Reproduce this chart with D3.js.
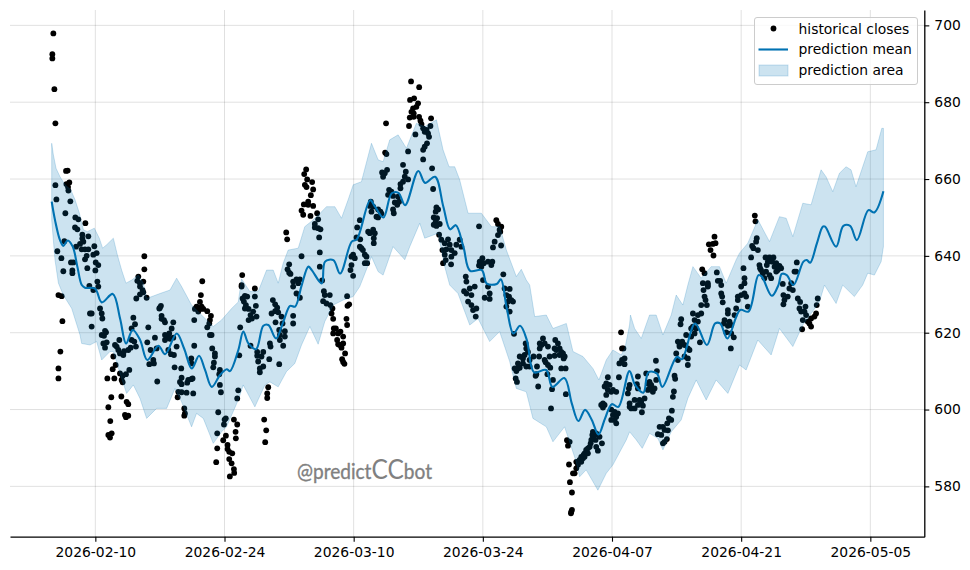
<!DOCTYPE html>
<html>
<head>
<meta charset="utf-8">
<script src="https://cdn.jsdelivr.net/npm/d3@7"></script>
<style>
html, body { margin: 0; background: #fff; }
text { font-family: "DejaVu Sans", sans-serif; }
</style>
</head>
<body>
<svg id="chart" width="970" height="570"></svg>
<script>
// all times are days counted from 2026-02-10 00:00 UTC
var baseDate = Date.UTC(2026, 1, 10);
var tickLabels = ['2026-02-10', '2026-02-24', '2026-03-10', '2026-03-24', '2026-04-07', '2026-04-21', '2026-05-05'];
var priceTicks = [580, 600, 620, 640, 660, 680, 700];
var legendLabels = ['historical closes', 'prediction mean', 'prediction area'];

// prediction mean [day, price]
var predictionMean = [[-4.73,654.1],[-4.37,649.3],[-3.83,644.1],[-3.47,642.6],[-2.99,644],[-2.45,642.4],[-1.95,637.2],[-1.47,632.4],[-1.12,631.7],[-0.03,631.5],[0.69,627.9],[1.89,630.1],[2.68,623.7],[3.33,617.2],[4.05,620.7],[4.85,618.1],[5.64,612.9],[6.83,616.6],[7.56,614.4],[8.82,619.8],[9.62,615.9],[10.45,610.7],[11.24,614],[11.89,610.3],[12.62,605.9],[13.52,609],[14.24,610.5],[14.6,610],[15.5,615.5],[16.04,620.3],[16.59,617.2],[17.42,615.7],[18.21,621.8],[18.75,622],[19.59,618.5],[20.38,622.9],[21.11,627],[21.65,626.8],[22.37,632.4],[23.09,637.2],[23.46,636.3],[24.54,632.8],[24.9,638.5],[25.8,638.9],[26.53,635.4],[27.79,643.7],[28.34,644.3],[29.78,654.5],[30.32,652.8],[31.22,650],[32.13,656.3],[32.85,656.4],[33.57,653.2],[35.01,662.1],[35.74,659],[36.82,660.6],[37.72,652.8],[38.45,646.9],[39.07,648],[39.89,642.4],[40.62,636.1],[41.89,636.3],[42.43,632.8],[43.51,632.7],[43.95,633.9],[44.6,626.3],[45.31,619.8],[46.04,621.8],[46.77,618.1],[47.56,609.7],[48.86,610.3],[49.54,605.9],[50.84,608.2],[51.64,601.6],[52.36,597],[53.08,599.9],[53.81,597.3],[54.53,593.5],[55.25,597.7],[55.98,601.4],[56.69,600.7],[57.89,610],[58.5,606.4],[59.4,604.4],[59.95,609.7],[60.86,609.4],[61.46,605.9],[63.02,613.7],[63.57,613.1],[65.01,622.4],[66.28,616.8],[67.18,622.4],[67.72,622.4],[68.51,618.5],[69.89,625.9],[70.79,625.5],[71.87,635],[72.24,634.6],[73.32,629.6],[74.04,632.4],[74.4,635.3],[74.94,635],[75.66,632.4],[76.75,638.5],[77.12,638.9],[77.48,638.2],[78.2,643.2],[78.85,647.6],[79.1,647.6],[80.29,642.4],[81.08,647.8],[81.81,647.8],[82.54,644.1],[83.79,651.9],[84.44,651.3],[85.42,656.8]];

// upper edge of prediction area [day, price]
var predictionUpper = [[-4.73,669.3],[-4.55,666.3],[-4.26,662.8],[-3.83,660.6],[-3.29,658.5],[-2.67,657.2],[-2.2,654.6],[-1.73,651.1],[-1.3,646.8],[-0.87,646.3],[-0.11,647.2],[0.43,644.6],[0.79,642],[1.23,642.9],[1.95,644.6],[2.38,640.3],[2.85,636.3],[3.32,632.9],[3.94,633.7],[4.66,635],[5.2,632.9],[5.56,628.9],[7,630.2],[8.09,631.1],[8.81,634.2],[9.35,632],[10.43,627.2],[11.34,625],[12.78,621.6],[13.68,623.3],[14.77,626.3],[15.49,628],[15.85,634],[16.75,630.7],[17.65,630.7],[18.2,634.1],[18.56,636.3],[19.28,636.3],[19.82,632.9],[20.36,638.1],[20.9,641.5],[21.99,642],[22.7,647.6],[23.43,649],[24.33,651],[25.05,652.8],[25.96,652.8],[26.68,649.8],[27.4,654.6],[27.95,658.5],[28.84,659.3],[29.93,669.3],[30.65,665],[31.19,664.5],[31.91,670.2],[32.82,671.5],[33.72,668],[34.8,674.5],[35.7,673.6],[36.97,675.4],[37.69,667.6],[38.34,663.2],[38.95,663.2],[39.49,659.8],[40.4,651.1],[41.84,651.1],[42.93,647.6],[43.83,647.6],[44.55,641.5],[45.63,634.6],[46.17,636.5],[46.71,633.7],[47.08,632.4],[47.62,624.2],[48.88,624.6],[49.6,621.1],[51.05,622.4],[51.77,615.1],[52.85,613.8],[53.93,610.7],[54.58,607.7],[55.38,612.9],[56.1,615.5],[57,614.2],[57.4,615.9],[57.9,622],[58,624.6],[58.45,621.1],[59.17,618.5],[60.07,624.6],[60.79,624.6],[61.52,619.4],[62.42,624.6],[62.96,629.8],[63.68,627.2],[64.22,632.4],[64.77,637.2],[65.67,634.2],[66.75,637.2],[67.65,637.2],[68.38,632.9],[69.46,639],[69.82,640.7],[70.72,643.3],[71.81,649.4],[73.07,643.7],[74.15,650.2],[74.88,649.8],[75.6,645],[76.68,653.7],[77.58,653.3],[78.66,662.4],[79.2,660.6],[79.93,656.7],[80.65,661.5],[81.37,663.2],[81.91,662.4],[82.45,658],[83.72,667.1],[84.62,667.6],[85.24,673.2],[85.42,673.2]];

// lower edge of prediction area [day, price]
var predictionLower = [[-4.73,649.3],[-4.37,638.9],[-4,632.9],[-3.47,629.8],[-2.56,626.3],[-1.66,619.4],[-1.48,617.2],[-0.58,616.8],[0.14,617.7],[0.69,612.9],[1.59,615.1],[1.95,615.1],[2.85,608.1],[3.39,604.2],[4.12,606.4],[4.84,602.9],[5.56,597.7],[6.64,600.3],[7.73,600.3],[8.63,605.5],[9.35,602],[10.43,595.5],[10.97,599],[11.7,597.7],[12.78,591.2],[13.68,594.2],[14.22,595.5],[15.49,602.5],[16.03,606.4],[17.29,600.7],[18.38,606.4],[18.92,607.2],[19.82,605.9],[20.72,609.9],[21.62,612],[22.35,616.8],[23.25,621.6],[24.15,617],[24.87,622.9],[25.78,627.2],[26.86,628.5],[27.94,629.4],[28.66,632],[29.93,639.8],[30.65,635.9],[31.19,635],[32.27,642.4],[33.54,639],[34.08,642.4],[35.16,648.5],[35.7,644.6],[37.15,645.9],[37.87,637.2],[38.41,632.4],[39.31,630.2],[40.58,622],[41.48,623.7],[42.74,617.7],[43.82,620.3],[44.91,612.5],[45.63,605.5],[46.71,604.6],[47.43,597.7],[48.88,595.5],[49.6,591.6],[50.86,595.5],[52.12,586.4],[52.49,582.5],[53.2,584.3],[54.47,579],[55.38,583.4],[56.1,585.6],[57.55,592.1],[57.91,594.2],[58.63,592.1],[59.28,589.9],[60.07,593.8],[60.97,592.5],[61.52,589.5],[62.42,594.2],[63.5,597.3],[64.22,602.9],[65.13,607.7],[66.21,602.5],[67.29,607.7],[68.56,604.2],[69.82,611.6],[70.54,610.3],[71.8,618.1],[73.25,614.2],[74.15,621.1],[75.6,616.4],[76.68,622],[78.48,628],[79.03,632.4],[80.29,627.6],[81,632.4],[82.27,629.4],[83.17,632.4],[83.72,635.5],[84.44,635],[85.17,638.5],[85.42,642.4]];

// historical closes [day, price]
var historicalCloses = [
[-4.55,697.9],[-4.66,692.5],[-4.66,691.4],[-4.44,683.4],[-4.33,674.5],[-3.18,662.1],[-3,662.2],[-4.33,658.4],[-4.22,654.7],[-3.14,658.7],[-2.82,659.1],[-2.96,657.9],[-2.92,657],[-2.71,654.2],[-3.25,651.1],[-2.17,650],[-1.84,649.5],[-1.08,648.5],[-2.2,647.4],[-1.95,646.9],[-0.76,645.1],[-1.41,645.5],[-1.41,644.5],[-3.36,643.8],[-1.3,643.7],[-1.66,643.1],[-2.09,642.4],[-0.11,642.5],[-4.12,641.2],[-1.48,641.7],[-1.12,641.7],[-0.76,641.7],[0.14,640.7],[-0.22,640.3],[-0.94,640],[-1.12,639.1],[-3.68,639.4],[-2.64,638.3],[-2.38,638.3],[0.04,638.3],[0.32,637.6],[-0.87,636.8],[-3.47,636],[-2.49,636.2],[-2.49,635.5],[0,636.2],[0.22,633.3],[-0.65,632.2],
[5.31,639.9],[5.31,636.5],[4.66,634.6],[4.55,633.5],[4.84,632.9],[5.2,633.3],[11.59,633.4],[15.92,635],[15.85,632.4],
[20.69,646.1],[20.79,644.3],[22.85,662.5],[22.64,661.3],[22.96,659.9],[23.5,659.2],[22.71,658.5],[22.89,657.9],[23.61,657.3],[23.36,655.8],[23.07,654.1],[22.6,653.4],[23.07,653.3],[23.61,653],[24.04,651.1],[22.35,651.8],[22.53,650.7],[23.32,650.4],[24.15,649.5],[23.79,648.3],[23.79,647.4],[24.15,647.2],[24.26,644.8],[22.35,639.9],[24.33,640.9],[24.33,637.2],[21.01,637.8],[20.83,636.5],[21.01,635.6],[21.15,635.3],[21.44,633.3],[21.8,633.9],[22.17,633.9],[21.99,632.9],[21.44,632],[21.8,630.2],[22.17,629.1],[21.44,624.4],[21.44,622.4],
[-4,629.8],[-3.65,629.5],[-3.57,623],[-3.79,615.1],[-4,610.7],[-4,608.1],[0.32,632],[-0.22,631.1],[0.51,626.3],[0.69,625],[0.76,623.7],[-0.58,625],[-0.4,625],[-0.4,621.6],[1.05,620.5],[1.16,620.1],[0.69,619.4],[0.94,619.2],[1.23,617.5],[0.87,617.2],[1.05,616.1],[1.3,608.1],[2.06,608.1],[1.95,613.8],[2.2,611.6],[1.88,610.5],[2.31,616.4],[2.6,618.1],[2.49,615.5],[2.13,616.8],[2.67,614.6],[3.11,615.2],[3.03,614.2],[3.57,615.5],[2.67,609.4],[2.96,608.8],[3.32,609.2],[2.85,607.7],[2.96,607.1],[3.68,610.3],[1.73,603.2],[2.82,603.4],[3.39,602],[3.57,601.4],[1.41,600.6],[1.62,597],[3.21,598.6],[3.57,598.4],[3.32,598],[1.77,593.8],[1.41,593.4],[1.59,592.7],
[4.12,623.9],[4.3,622.2],[3.93,621.1],[3.83,616.1],[4.22,617.7],[4.4,616.4],[3.93,618.1],[4.44,628.9],[4.84,630],[5.2,630.5],[5.56,629.1],[5.12,631.1],[4.84,632],[5.74,621.4],[5.63,617.5],[6.46,618.7],[5.99,615.5],[6.64,615.9],[6.28,612.9],[5.85,611.8],[6.35,612],[6.71,607.3],[6.93,626.3],[7.11,627],[7,626.5],[7.18,624.4],[7.44,623.3],[7.55,622.7],[7.18,623.6],[8.45,622.7],[8.27,621.1],[8.01,619.8],[7.55,619.4],[7.8,618.7],[7.55,618.1],[8.09,618.4],[8.45,618.7],[8.81,616.4],[7.91,615.5],[8.2,614.4],[8.52,614.2],[8.59,611],[9.31,610.7],[10.4,613.3],[10.43,612],[10.72,616.6],[10.72,623.3],[9.35,608.3],[9.17,607.2],[9.35,606.6],[10.07,607.7],[10.54,608.1],[9.96,607],[10.4,607.9],[8.99,604.6],[8.92,603.2],[9.35,604.5],[9.89,604.4],[10.61,604.2],[9.64,600.3],[9.71,599],[9.64,598.4],
[11.44,629.8],[11.34,628],[10.97,626.8],[11.52,626.8],[11.16,625.5],[11.7,626.2],[12.13,625.6],[10.79,626.2],[11.34,626.2],[10.97,626.5],[12.53,624.4],[12.42,623.3],[12.35,622.4],[12.13,621.4],[12.42,619.4],[12.6,619.4],[12.67,615.9],[12.96,614.6],[12.96,613.8],[12.85,612.2],[12.78,611],[13.5,610.3],[13.43,609.2],[13.5,606.4],[13.61,604.5],[13.32,599.3],[14.01,597.4],[14.14,597.7],[13.94,596.1],[13.21,593.8],[14.15,593.2],[13.86,592],[13.21,589.9],[13.1,586.3],[14.33,590.8],[14.33,589.7],[14.51,589],[14.84,588.6],[14.51,587.1],[14.77,586],[15.02,584.5],[15.05,583.5],[14.58,582.6],[15.02,597.4],[15.38,596.1],[15.2,594.2],[15.23,592.5],[15.49,605],[15.38,602.9],[15.6,614.1],[15.7,621.4],
[15.85,632],[17.29,631.5],[17.29,629.4],[15.96,628.9],[16.21,629.6],[16.46,629.4],[16.1,628.1],[16.32,627.2],[16.21,626.3],[17.4,627],[16.61,626.2],[17.11,625.5],[16.82,624.6],[17.47,624.2],[16.61,623.3],[16.97,623.7],[16.82,616.6],[17.54,615],[18.2,615],[17.54,614],[18.01,613.8],[17.65,612.5],[18.2,611.2],[17.83,610.7],[17.83,609.7],[18.85,613.1],[19.93,611.8],[18.92,617.2],[18.99,616.4],[19.24,628.5],[19.49,627.4],[19.71,626.5],[19.49,625.6],[19.1,625],[19.82,625.3],[19.53,622.7],[20.18,624.2],[20.29,622.4],[19.93,620.7],[20.54,620.4],[20,619.4],[20.54,619],[20,618.1],[20.36,616.6],[18.74,605.8],[18.63,604.2],[18.63,603],[18.3,597.4],[18.52,594.6],[18.41,591.5],
[24.4,646.9],[24.58,633.6],[24.77,630.8],[24.87,629.8],[25.41,629.8],[24.69,628.2],[25.05,627.6],[25.48,627.2],[25.7,626.3],[25.6,625],[25.78,623.6],[25.85,621.1],[26.07,621.1],[25.78,619.8],[26.32,619.8],[26.57,620.3],[26.86,619],[26.21,618.1],[26.5,616.8],[26.86,617.2],[26.32,617],[26.68,616.1],[27.07,614.6],[26.75,613.1],[26.86,612.4],[27,611.9],[27.29,629.5],[27.51,627.4],[27.33,627],[27.22,623.6],[27.29,622],
[27.94,634.8],[27.65,636.3],[27.76,637.6],[28.12,639.4],[27.76,639.8],[27.94,640.3],[28.38,647.4],[28.67,649.3],[28.31,644.8],[28.71,644.3],[28.67,642.4],[28.84,642],[29,641.5],[29.21,640.3],[29.39,639.8],[29.21,638.1],[29.46,638.1],[29.57,646.3],[30.11,646.8],[30.29,645.9],[30.18,644.6],[30.18,643.3],[29.75,645.9],[29.86,654.1],[29.75,653],[30.11,652.8],[29.93,651.5],[30.65,652.1],[30.9,651.5],[30.47,650.2],[30.65,650],[31.01,651],[31.62,662.4],[31.08,661.7],[31.37,661.5],[31.19,660.6],[31.41,666.9],[31.55,666.5],[31.51,674.5],[31.84,657.2],[32.09,656.7],[31.73,655.9],[32.27,655.6],[32.82,655.4],[32.92,654.1],[32.46,653.9],[32.72,653.3],[32.27,652.1],[32.35,651.1],[33.07,657.6],[33.07,658.7],[33.35,659.3],[33.54,660.6],[33.9,659.9],[33.65,661.9],[33.35,663.7],[33.9,667.2],
[34.22,685.4],[35.1,683.9],[34.11,680.6],[34.55,681],[34.98,679.7],[34.44,678.4],[34.8,678.8],[34.26,677.5],[34.51,677.1],[34.08,676],[34.51,676.2],[35.09,676.2],[34,673.8],[34.69,671.6],[35.24,675.2],[35.35,674.3],[35.53,673.2],[35.9,672.8],[35.7,672.3],[36.06,671.9],[36.32,673.8],[36.39,675.8],[36.17,671],[35.95,669.3],[35.7,668.4],[35.53,667.6],[35.53,665.1],[36.5,662.8],[36.61,657.4],[36.97,652.6],[37.15,652.1],[36.89,651.5],[36.68,650],[37.04,649.8],[36.89,648.9],[36.68,648.1],[37.33,648.3],[36.97,647.8],[37.26,645.5],[37.5,644.2],[38.23,644.3],[37.87,643.3],[38.41,642.9],[37.62,641.5],[38.05,641.7],[38.59,641.5],[39.13,642.9],[39.49,644.2],[39.67,642.4],[38.95,640.7],[37.87,640.3],[38.59,639.8],[37.98,638.9],[37.69,638.1],[38.56,637.8],
[41.59,647.7],[43.28,643.7],[43.1,642.2],[43.98,642.7],[43.64,645.4],[43.82,646.8],[43.46,649.3],[43.64,648.3],[44,647.6],[43.89,646.3],[41.95,639.4],[41.66,638.5],[42.1,638.1],[42.56,638.5],[43.03,638.5],[42.92,637.6],[41.59,637.5],[41.84,637.2],[44.22,635.2],[40.15,634.6],[40.22,633.3],[42.02,633.7],
[39.97,630.8],[40.58,631.5],[40.22,630.2],[40.76,629.8],[41.12,632],[40.4,628.1],[40.76,627.2],[40.94,625.9],[41.3,626.3],[41.23,624.2],[42.56,632],[42.74,630.2],[42.2,629.1],[42.74,628.8],[44.36,631.5],[44.91,631.4],[44.55,629.8],[44.84,629.4],[45.09,628.5],[45.27,628.1],[44.73,628.1],[44.55,626.8],[44.91,625.5],[45.38,619.7],
[46.64,617.2],[46.71,615.9],[46.89,615],[46.53,614.2],[46,613.8],[46.35,613.3],[47.07,612.9],[45.81,612],[46.35,612],[45.81,610.7],[45.45,610.7],[46,610.9],[46.71,611.2],[45.63,610],[47.07,611.2],[45.56,608.1],[45.7,607.2],[48.52,618.5],[48.17,617.2],[48.7,617.2],[49.06,616.4],[48.17,615.9],[48.35,616.8],[47.5,613.8],[48.1,613.8],[47.87,611.2],[48.7,612.9],[49.24,613.8],[49.78,614],[49.06,611.6],[48.81,612.3],[49.31,610.9],[47.8,609.2],[47.72,608.8],[49,609.2],[49.6,607.7],[48,606],[49.5,605.3],[49.39,600.3],[51,604],[49.85,618.1],[50.14,617.2],[49.78,615.9],[50.32,615.9],[49.96,615.5],[50.5,615],[50.69,614.6],[50.32,614.2],[50.87,613.8],[50.76,613.3],[50.5,610.7],[50.97,610.7],
[51.12,592],[51.41,591.6],[51.23,590.6],[51.34,585.7],[51.44,581.1],[51.66,578.4],[51.66,573.9],[51.59,573.4],[51.55,573],[51.77,583.4],[51.95,583.4],[52.13,584.7],[52.13,586.4],[52.49,586.9],[52.67,587.7],[52.85,587.3],[53.03,588.6],[53.2,589.5],[53.03,587.7],[53.39,589.9],[53.58,590.3],[53.76,592.1],[53.93,594.2],[53.93,592.5],[54.29,593.8],[54.22,592.1],[54.65,592.9],[54.91,591.2],[54.29,590.3],[54.47,589.3],[52.31,585.6],[52.67,586.4],[52.92,588.2],[53.39,588.6],[53.69,591.2],[53.87,593.4],[54.13,593.4],
[56.98,620.1],[57.09,615.9],[57.24,615.9],[56.8,612],[57.36,613.3],[57.36,611.8],[57.09,612.9],[55.55,608.4],[56.75,608.4],[55.38,606.8],[55.74,606.4],[55.55,605.1],[55.92,604.6],[55.38,603.8],[55.2,606],[56.46,604.6],[56.1,605.1],[55.02,601.6],[55.2,601.2],[54.83,601.2],[55.02,600.5],[55.92,600],[56.28,599.4],[56.64,599],[56.1,598.6],[56.46,598.1],[55.92,597.3],[56.28,597.3],[56.46,596.4],[57.83,605.5],[57.72,604.2],[57.91,600.7],
[57.91,606.4],[58.81,608.6],[58.7,606.6],[58.81,605.5],[59.71,609.4],[59.89,606.8],[60.07,607.2],[60.25,606.4],[60.07,605.5],[59.89,605.1],[60.43,604.6],[60.61,605.5],[60.79,607.7],[60.87,610],[60.76,612.7],[57.91,601.6],[58.09,600.3],[58.45,600.3],[58.45,602.5],[58.99,602.5],[58.81,601.2],[59.17,602],[59.53,602.9],[59.35,601],[59.24,599.3],[62.49,599.7],[62.6,603.3],[62.71,604.7],[62.78,608.8],[62.85,608],[62.42,597.3],[62.17,597.7],[61.99,596.4],[62.06,594.6],[61.52,595.5],[61.16,595.5],[61.7,594.7],[60.97,593.6],[61.34,593.4],[61.95,592.3],[61.7,591.6],[61.52,591.2],
[63.5,623.5],[63.43,622.2],[63.14,617.7],[63.32,616.8],[63.61,617.7],[63.86,616.8],[62.96,614.6],[63.32,616.4],[64.04,619.4],[64.58,619],[64.22,615.9],[64.4,615.5],[63.14,612.9],[63.86,613.8],[64.22,613.3],[64.22,611.6],[64.77,625],[65.31,624.6],[65.67,625],[64.95,623.3],[65.31,622.9],[64.77,621.6],[65.13,621.1],[64.58,621.1],[64.95,619.8],[65.53,617.5],[65.67,627.2],[66.14,628.5],[66.28,627.2],[66.03,629.4],[66.39,632],[65.92,631.1],[66.39,632.4],
[67.84,632.4],[67.84,630.2],[67.94,629.4],[68,627.9],[68.56,625.9],[68.56,625],[68.2,623.3],[68.13,622.4],[68.74,622.9],[68.56,621.8],[68.92,622],[68.38,620.1],[68.92,619.8],[69.2,618.8],[68.88,615.9],[69.46,626.3],[69.28,624.6],[69.64,628.5],[70,629.8],[70.36,630.2],[69.64,629.4],[70.54,629.4],[70.72,626.8],[70,632],
[67.11,645],[66.93,643.1],[66.5,643],[67.22,643.3],[66.68,641.5],[67,640.1],[65.78,636.5],[66.03,635.5],[67.36,635.7],[67.47,633.5],[67.72,633.5],[65.85,632.9],[66.39,632.9],[71.48,650.5],[71.55,649],[71.69,644.6],[71.62,643.7],[71.19,642.6],[71.33,642],[71.81,641.5],[71.08,639.6],[70.25,636.8],[70.36,634.2],[70.36,632.9],
[71.98,637.6],[72.16,636.3],[72.34,635.5],[72.7,635.9],[73.07,635],[73.25,634.2],[72.52,634.2],[72.05,636.8],[72.64,639.6],[73.07,639.6],[73.5,639.6],[72.89,638.5],[73.36,638.5],[72.78,637.6],[73.8,638.1],[73.62,637.2],[74.15,637.4],[74.33,636.8],[73.97,636.3],[73.8,635.9],[76.03,638.3],[75.78,635.9],[75.96,635.9],[75.42,632.9],[74.51,632.7],
[74.58,629.8],[74.69,628.5],[75.05,629.4],[74.58,627.4],[75.23,631.5],[75.6,631.1],[76.14,628.9],[76.39,628],[76.32,626.3],[76.5,625.5],[76.97,626.8],[76.86,625.5],[77.04,624.6],[76.68,623.3],[77.22,622.9],[77.58,623.7],[77.94,624.2],[78.12,625],[78.19,627.2],[78.3,628.9],[77.4,622.4],[77.58,621.6],[76.61,620.9]
];

var svg = d3.select('#chart');
var plotLeft = 10, plotRight = 924.3, plotTop = 10, plotBottom = 536.7;
var meanColor = '#0072B2';

function dayToDate(day) {
    return new Date(baseDate + day * 864e5);
}

var x = d3.scaleUtc()
    .domain([dayToDate(-9.25), dayToDate(89.85)])
    .range([plotLeft, plotRight]);
var y = d3.scaleLinear()
    .domain([566.9, 704])
    .range([plotBottom, plotTop]);

//-----------------------------------------------------------------------------
// grid
var tickDates = tickLabels.map(function(d) { return new Date(d + 'T00:00:00Z'); });

svg.append('g').selectAll('line')
    .data(tickDates)
    .enter().append('line')
    .attr('x1', function(d) { return x(d); })
    .attr('x2', function(d) { return x(d); })
    .attr('y1', plotTop)
    .attr('y2', plotBottom)
    .attr('stroke', '#000')
    .attr('stroke-opacity', 0.12);

svg.append('g').selectAll('line')
    .data(priceTicks)
    .enter().append('line')
    .attr('x1', plotLeft)
    .attr('x2', plotRight)
    .attr('y1', function(d) { return y(d); })
    .attr('y2', function(d) { return y(d); })
    .attr('stroke', '#000')
    .attr('stroke-opacity', 0.12);

//-----------------------------------------------------------------------------
// watermarks, the logo font is not installed so the whole word is fitted to its width
function drawWatermark(left, baseline, color, opacity) {
    var mark = svg.append('text')
        .attr('x', left)
        .attr('y', baseline)
        .attr('textLength', 135)
        .attr('lengthAdjust', 'spacingAndGlyphs')
        .style('font-family', 'Lato')
        .style('font-size', '21px')
        .style('fill', color)
        .style('fill-opacity', opacity)
        .style('stroke', color)
        .style('stroke-opacity', opacity)
        .style('stroke-width', 0.35);
    mark.append('tspan').text('@predict');
    mark.append('tspan').style('font-size', '27px').style('stroke-width', 0).text('CC');
    mark.append('tspan').text('bot');
}
drawWatermark(297, 479, '#808080', 1);
drawWatermark(302, 38, '#000', 0.025);

//-----------------------------------------------------------------------------
// closes, mean, area
svg.append('g').selectAll('circle')
    .data(historicalCloses)
    .enter().append('circle')
    .attr('cx', function(d) { return x(dayToDate(d[0])); })
    .attr('cy', function(d) { return y(d[1]); })
    .attr('r', 2.9)
    .attr('fill', '#000');

var line = d3.line()
    .x(function(d) { return x(dayToDate(d[0])); })
    .y(function(d) { return y(d[1]); });

svg.append('path')
    .attr('d', line.curve(d3.curveCatmullRom.alpha(0.5))(predictionMean))
    .attr('fill', 'none')
    .attr('stroke', meanColor)
    .attr('stroke-width', 2.1);

svg.append('path')
    .attr('d', line.curve(d3.curveLinear)(predictionUpper.concat(predictionLower.slice().reverse())) + 'Z')
    .attr('fill', meanColor)
    .attr('fill-opacity', 0.2)
    .attr('stroke', meanColor)
    .attr('stroke-opacity', 0.2);

//-----------------------------------------------------------------------------
// axes
var xAxis = d3.axisBottom(x)
    .tickValues(tickDates)
    .tickFormat(d3.utcFormat('%Y-%m-%d'))
    .tickSizeInner(5)
    .tickSizeOuter(0)
    .tickPadding(5);
var yAxis = d3.axisRight(y)
    .tickValues(priceTicks)
    .tickSizeInner(5)
    .tickSizeOuter(0)
    .tickPadding(5);

var xAxisG = svg.append('g').attr('transform', 'translate(0,' + plotBottom + ')').call(xAxis);
var yAxisG = svg.append('g').attr('transform', 'translate(' + plotRight + ',0)').call(yAxis);
[xAxisG, yAxisG].forEach(function(g) {
    g.selectAll('text')
        .style('font-family', '"DejaVu Sans"')
        .style('font-size', '13.89px')
        .style('fill', '#000');
    g.selectAll('line').attr('stroke', '#000').attr('stroke-width', 1.1);
    g.select('.domain').attr('stroke', '#000').attr('stroke-width', 1.3);
});

//-----------------------------------------------------------------------------
// legend
var legend = svg.append('g').attr('transform', 'translate(754.5,17.5)');
legend.append('rect')
    .attr('width', 163)
    .attr('height', 67)
    .attr('rx', 2.5)
    .attr('fill', '#fff')
    .attr('fill-opacity', 0.8)
    .attr('stroke', '#ccc');

legend.selectAll('text')
    .data(legendLabels)
    .enter().append('text')
    .attr('x', 44)
    .attr('y', function(d, i) { return 11.5 + i * 20.6; })
    .attr('dy', '0.35em')
    .style('font-size', '13.89px')
    .style('fill', '#000')
    .text(function(d) { return d; });

legend.append('circle')
    .attr('cx', 19).attr('cy', 11)
    .attr('r', 2.9)
    .attr('fill', '#000');
legend.append('line')
    .attr('x1', 4).attr('x2', 33.5)
    .attr('y1', 32).attr('y2', 32)
    .attr('stroke', meanColor)
    .attr('stroke-width', 2.1);
legend.append('rect')
    .attr('x', 4.5).attr('y', 47.5)
    .attr('width', 29).attr('height', 11)
    .attr('fill', meanColor)
    .attr('fill-opacity', 0.2)
    .attr('stroke', meanColor)
    .attr('stroke-opacity', 0.2);
</script>
</body>
</html>
